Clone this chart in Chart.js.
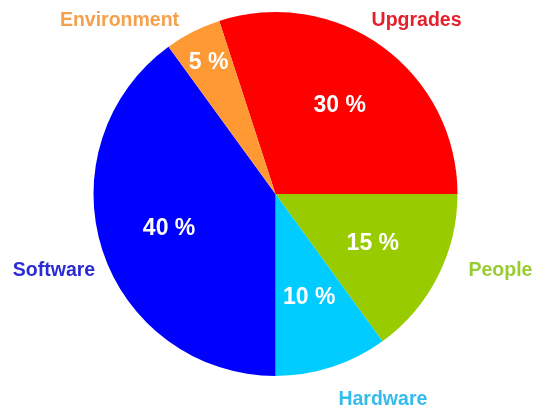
<!DOCTYPE html>
<html>
<head>
<meta charset="utf-8">
<script src="https://cdn.jsdelivr.net/npm/chart.js@4"></script>
<style>
html,body{margin:0;padding:0;background:#fff;}
#wrap{width:535px;height:406px;position:relative;}
</style>
</head>
<body>
<div id="wrap"><canvas id="c" width="535" height="406"></canvas></div>
<script>
const categories = ["Upgrades", "People", "Hardware", "Software", "Environment"];
const values = [30, 15, 10, 40, 5];
const sliceColors = ["#FF0000", "#99CC00", "#00CCFF", "#0000FF", "#FF9933"];
const nameColors = ["#E3202B", "#99CC33", "#33BBEE", "#2B2BD6", "#F5A04C"];
// outer name label placement, as fraction of radius from centre
const nameOffsets = [[0.775, -0.95], [1.236, 0.423], [0.59, 1.13], [-1.217, 0.423], [-0.857, -0.95]];
// inner percent label radial placement, fraction of radius
const pctRadius = [0.6, 0.6, 0.6, 0.615, 0.81];

const labelPlugin = {
  id: 'labels',
  afterDatasetsDraw(chart) {
    const ctx = chart.ctx;
    const meta = chart.getDatasetMeta(0);
    ctx.save();
    ctx.textAlign = 'center';
    ctx.textBaseline = 'middle';
    meta.data.forEach((arc, i) => {
      const p = arc.getProps(['x', 'y', 'startAngle', 'endAngle', 'outerRadius'], true);
      const mid = (p.startAngle + p.endAngle) / 2;
      const r = p.outerRadius * pctRadius[i];
      ctx.fillStyle = '#FFFFFF';
      ctx.font = 'bold 23px "Liberation Sans", Arial, sans-serif';
      ctx.fillText(values[i] + ' %', p.x + Math.cos(mid) * r, p.y + Math.sin(mid) * r);
      ctx.fillStyle = nameColors[i];
      ctx.font = 'bold 19.5px "Liberation Sans", Arial, sans-serif';
      ctx.fillText(categories[i], p.x + nameOffsets[i][0] * p.outerRadius, p.y + nameOffsets[i][1] * p.outerRadius);
    });
    ctx.restore();
  }
};

new Chart(document.getElementById('c'), {
  type: 'pie',
  data: {
    labels: categories,
    datasets: [{
      data: values,
      backgroundColor: sliceColors,
      borderWidth: 0
    }]
  },
  options: {
    responsive: false,
    animation: false,
    rotation: -18,
    layout: { padding: { top: 12, bottom: 30, left: 16, right: 0 } },
    plugins: {
      legend: { display: false },
      tooltip: { enabled: false }
    }
  },
  plugins: [labelPlugin]
});
</script>
</body>
</html>
